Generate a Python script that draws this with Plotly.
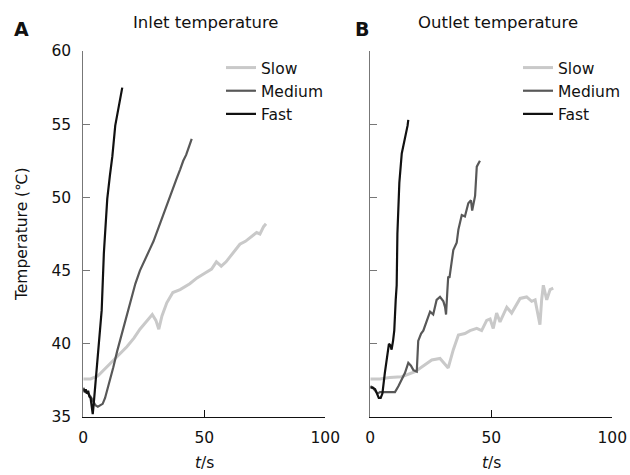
import plotly.graph_objects as go

# ---------------- data ----------------
# Panel A: inlet temperature
inlet_fast_t = [0, 0.5, 1, 1.5, 2, 2.5, 3, 3.5, 3.9, 4.3, 5, 5.8, 6.5, 7.6, 8.5, 9.9, 11, 12, 13.2, 14.2, 14.9, 15.6, 16.1]
inlet_fast_y = [37.0, 36.7, 36.9, 36.6, 36.8, 36.4, 36.3, 35.5, 35.2, 35.9, 37.2, 38.5, 40.0, 42.3, 46.2, 49.9, 51.5, 52.8, 54.9, 55.9, 56.6, 57.1, 57.5]

inlet_medium_t = [0, 1, 2, 3, 4, 5, 6, 7, 8, 9, 10, 11, 12.4, 14, 15.9, 18, 20, 21.5, 23.4, 25.5, 27.6, 29, 30.3, 32, 33.5, 35.1, 37.2, 38.6, 40, 41.3, 42.5, 43.4, 44.2, 44.8]
inlet_medium_y = [36.9, 36.7, 36.6, 36.4, 36.1, 35.8, 35.7, 35.8, 35.9, 36.3, 36.9, 37.6, 38.4, 39.5, 40.7, 42.0, 43.3, 44.1, 45.0, 45.8, 46.5, 47.0, 47.6, 48.3, 49.0, 49.7, 50.7, 51.3, 51.9, 52.5, 52.9, 53.3, 53.6, 54.0]

inlet_slow_t = [0, 3, 6, 9, 12, 15, 18, 21, 23.4, 26, 28.5, 30, 31.2, 32.5, 34.5, 37, 40, 44, 47, 50, 53, 55, 57, 59, 62, 64.7, 67, 69.5, 71.6, 73, 74.5, 75.5]
inlet_slow_y = [37.6, 37.6, 37.8, 38.3, 38.8, 39.3, 39.8, 40.4, 41.0, 41.5, 42.0, 41.6, 41.0, 41.9, 42.8, 43.5, 43.7, 44.1, 44.5, 44.8, 45.1, 45.6, 45.3, 45.6, 46.2, 46.8, 47.0, 47.3, 47.6, 47.5, 48.0, 48.2]

# Panel B: outlet temperature
outlet_fast_t = [0, 1, 2, 3, 3.5, 4.3, 5, 6, 7, 7.7, 8.3, 8.8, 9.4, 9.9, 10.5, 10.9, 11.2, 11.6, 12, 13, 14.1, 14.6, 15, 15.4, 15.7]
outlet_fast_y = [37.0, 37.0, 36.9, 36.5, 36.3, 36.3, 36.6, 38.0, 39.2, 40.0, 39.9, 39.6, 40.2, 40.9, 43.0, 44.0, 47.5, 49.5, 51.0, 53.0, 53.9, 54.1, 54.4, 54.9, 55.3]

outlet_medium_t = [0, 1, 2, 3, 4, 5, 7, 9, 10.2, 11.6, 13, 14.3, 15.7, 16.8, 17.8, 19.2, 19.8, 21, 21.9, 23.3, 24.7, 26, 27.4, 28.8, 30.2, 30.9, 31.3, 31.8, 32.2, 32.7, 33.3, 34.3, 35.7, 36.4, 37.8, 39.1, 40.5, 41.6, 42.1, 43.3, 44.0, 45.3]
outlet_medium_y = [37.1, 37.0, 36.8, 36.6, 36.7, 36.7, 36.7, 36.7, 36.7, 37.1, 37.6, 38.0, 38.7, 38.5, 38.2, 38.1, 40.2, 40.7, 40.9, 41.6, 42.2, 42.0, 43.0, 43.2, 42.9, 42.5, 42.0, 43.5, 44.6, 44.5, 45.3, 46.4, 46.9, 47.8, 48.8, 48.7, 49.6, 49.8, 49.1, 50.1, 52.1, 52.5]

outlet_slow_t = [0, 4, 8, 13, 18.5, 22.6, 25.4, 28.8, 30.9, 32.2, 34.3, 36.4, 39.1, 41.2, 44, 46, 48.1, 49.5, 50.8, 52.2, 53.6, 56.4, 58.4, 61.9, 64.6, 66.7, 68.1, 68.8, 70.1, 70.8, 71.5, 72.9, 74.3, 75.6]
outlet_slow_y = [37.6, 37.6, 37.7, 37.75, 38.1, 38.55, 38.9, 39.0, 38.55, 38.35, 39.6, 40.6, 40.7, 40.9, 41.05, 40.9, 41.6, 41.7, 41.05, 42.1, 41.5, 42.5, 42.1, 43.1, 43.2, 42.9, 43.0, 42.3, 41.3, 43.0, 44.0, 43.0, 43.7, 43.8]

series_names = ["Slow", "Medium", "Fast"]
x_ticks = [0, 50, 100]
y_ticks = [35, 40, 45, 50, 55, 60]
panel_titles = ["Inlet temperature", "Outlet temperature"]
panel_letters = ["A", "B"]

# ---------------- styling ----------------
FONT = "DejaVu Sans"
colors = {"Slow": "#c9c9c9", "Medium": "#585858", "Fast": "#111111"}
widths = {"Slow": 3, "Medium": 2.2, "Fast": 2.2}

W, H = 630, 475
dom_x1 = [83.3 / W, 325.3 / W]
dom_x2 = [370.3 / W, 612.3 / W]
dom_y = [(H - 417) / H, (H - 51) / H]

fig = go.Figure()

panels = [
    ("x", "y", "legend", {"Slow": (inlet_slow_t, inlet_slow_y), "Medium": (inlet_medium_t, inlet_medium_y), "Fast": (inlet_fast_t, inlet_fast_y)}),
    ("x2", "y2", "legend2", {"Slow": (outlet_slow_t, outlet_slow_y), "Medium": (outlet_medium_t, outlet_medium_y), "Fast": (outlet_fast_t, outlet_fast_y)}),
]
for xa, ya, lg, data in panels:
    for name in series_names:
        t, v = data[name]
        fig.add_trace(go.Scatter(
            x=t, y=v, mode="lines", name=name, xaxis=xa, yaxis=ya, legend=lg,
            line=dict(color=colors[name], width=widths[name]),
        ))

axis_common = dict(
    showgrid=False, zeroline=False, ticks="inside", ticklen=7, tickwidth=1,
    showline=True, linewidth=1, automargin=False,
    tickfont=dict(family=FONT, size=15.5, color="#111"),
)
fig.update_layout(
    width=W, height=H,
    margin=dict(l=0, r=0, t=0, b=0),
    paper_bgcolor="white", plot_bgcolor="white",
    font=dict(family=FONT, size=15.5, color="#111"),
    xaxis=dict(domain=dom_x1, range=[0, 100], tickvals=x_ticks, linecolor="#111", tickcolor="#111", anchor="y",
               ticklabelstandoff=6, **axis_common),
    yaxis=dict(domain=dom_y, range=[35, 60], tickvals=y_ticks, linecolor="#777", tickcolor="#777", anchor="x",
               ticklabelstandoff=8, **axis_common),
    xaxis2=dict(domain=dom_x2, range=[0, 100], tickvals=x_ticks, linecolor="#111", tickcolor="#111", anchor="y2",
                ticklabelstandoff=6, **axis_common),
    yaxis2=dict(domain=dom_y, range=[35, 60], tickvals=y_ticks, showticklabels=False, linecolor="#777", tickcolor="#777", anchor="x2", **axis_common),
    legend=dict(x=221 / W, y=1 - 51 / H, xanchor="left", yanchor="top", bgcolor="rgba(0,0,0,0)",
                font=dict(family=FONT, size=15.5, color="#111"), tracegroupgap=0, itemwidth=30),
    legend2=dict(x=518 / W, y=1 - 51 / H, xanchor="left", yanchor="top", bgcolor="rgba(0,0,0,0)",
                 font=dict(family=FONT, size=15.5, color="#111"), tracegroupgap=0, itemwidth=30),
    showlegend=True,
)

ann = []
for i, (title, letter) in enumerate(zip(panel_titles, panel_letters)):
    dom = dom_x1 if i == 0 else dom_x2
    cx = (205.7 if i == 0 else 498.3) / W
    ann.append(dict(text=title, x=cx, y=1 - 22.7 / H, xref="paper", yref="paper", showarrow=False,
                    xanchor="center", yanchor="middle", font=dict(family=FONT, size=16.5, color="#111")))
    lx = (21.7 if i == 0 else 361.7) / W
    ann.append(dict(text="<b>" + letter + "</b>", x=lx, y=1 - 29 / H, xref="paper", yref="paper", showarrow=False,
                    xanchor="center", yanchor="middle", font=dict(family=FONT, size=19, color="#111")))
    ann.append(dict(text="<i>t</i>/s", x=(dom[0] + dom[1]) / 2, y=1 - 463 / H, xref="paper", yref="paper",
                    showarrow=False, xanchor="center", yanchor="middle", font=dict(family=FONT, size=15.5, color="#111")))
ann.append(dict(text="Temperature (℃)", x=22 / W, y=1 - 234 / H, xref="paper", yref="paper", showarrow=False,
                textangle=-90, xanchor="center", yanchor="middle", font=dict(family=FONT, size=15.5, color="#111")))
fig.update_layout(annotations=ann)

fig.write_html("out.html")
